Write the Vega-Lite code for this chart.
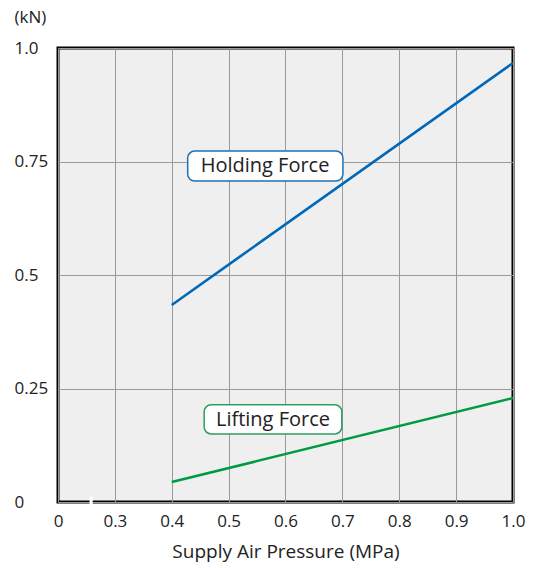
{
  "$schema": "https://vega.github.io/schema/vega-lite/v6.json",
  "width": 455,
  "height": 454,
  "autosize": {"type": "none"},
  "padding": {"left": 58, "top": 48, "right": 20, "bottom": 66},
  "config": {
    "font": "Open Sans",
    "view": {"fill": "#efefef", "stroke": "#000000", "strokeWidth": 3},
    "axis": {"labelFont": "Open Sans", "titleFont": "Open Sans", "labelColor": "#222222", "titleColor": "#222222", "labelFontSize": 17, "titleFontSize": 19, "titleFontWeight": "normal", "gridColor": "#9a9a9a", "gridWidth": 1, "gridOpacity": 1, "domain": false, "ticks": false}
  },
  "datasets": {
    "lines": [
      {"x": 0.4, "y": 0.434, "series": "Holding Force"},
      {"x": 1.0, "y": 0.967, "series": "Holding Force"},
      {"x": 0.4, "y": 0.044, "series": "Lifting Force"},
      {"x": 1.0, "y": 0.229, "series": "Lifting Force"}
    ],
    "labels": [
      {"series": "Holding Force", "x": 0.428, "x2": 0.701, "y": 0.773, "y2": 0.707, "tx": 0.564, "ty": 0.739},
      {"series": "Lifting Force", "x": 0.457, "x2": 0.699, "y": 0.214, "y2": 0.150, "tx": 0.578, "ty": 0.181}
    ],
    "gap": [
      {"x": 0.2555, "x2": 0.261, "y": -0.012, "y2": 0.012}
    ]
  },
  "layer": [
    {
      "data": {"name": "lines"},
      "mark": {"type": "line", "strokeWidth": 2.6},
      "encoding": {
        "x": {"field": "x", "type": "quantitative", "scale": {"domain": [0.2, 1.0], "nice": false, "zero": false},
          "axis": {"values": [0.2, 0.3, 0.4, 0.5, 0.6, 0.7, 0.8, 0.9, 1.0], "labelExpr": "datum.value < 0.25 ? '0' : format(datum.value, '.1f')", "title": "Supply Air Pressure (MPa)", "labelPadding": 11, "titlePadding": 13, "labelFlush": false}},
        "y": {"field": "y", "type": "quantitative", "scale": {"domain": [0, 1], "nice": false},
          "axis": {"values": [0, 0.25, 0.5, 0.75, 1], "labelExpr": "datum.value == 1 ? '1.0' : '' + datum.value", "labelAlign": "left", "labelPadding": 44, "labelBaseline": "middle", "labelFlush": false, "title": "(kN)", "titleAngle": 0, "titleAlign": "left", "titleBaseline": "middle", "titleX": -44, "titleY": -31, "titleFontSize": 17, "titleFontWeight": "normal"}},
        "color": {"field": "series", "type": "nominal", "scale": {"domain": ["Holding Force", "Lifting Force"], "range": ["#0068b7", "#009a44"]}, "legend": null}
      }
    },
    {
      "data": {"name": "labels"},
      "mark": {"type": "rect", "fill": "#ffffff", "strokeWidth": 1.5, "cornerRadius": 7},
      "encoding": {
        "x": {"field": "x", "type": "quantitative"},
        "x2": {"field": "x2"},
        "y": {"field": "y", "type": "quantitative"},
        "y2": {"field": "y2"},
        "stroke": {"field": "series", "type": "nominal", "scale": {"domain": ["Holding Force", "Lifting Force"], "range": ["#1f70b8", "#2e9e62"]}, "legend": null}
      }
    },
    {
      "data": {"name": "labels"},
      "mark": {"type": "text", "fontSize": 20, "font": "Open Sans", "color": "#222222", "align": "center", "baseline": "middle"},
      "encoding": {
        "x": {"field": "tx", "type": "quantitative"},
        "y": {"field": "ty", "type": "quantitative"},
        "text": {"field": "series"}
      }
    },
    {
      "data": {"name": "gap"},
      "mark": {"type": "rect", "fill": "#ffffff"},
      "encoding": {
        "x": {"field": "x", "type": "quantitative"},
        "x2": {"field": "x2"},
        "y": {"field": "y", "type": "quantitative"},
        "y2": {"field": "y2"}
      }
    }
  ]
}
